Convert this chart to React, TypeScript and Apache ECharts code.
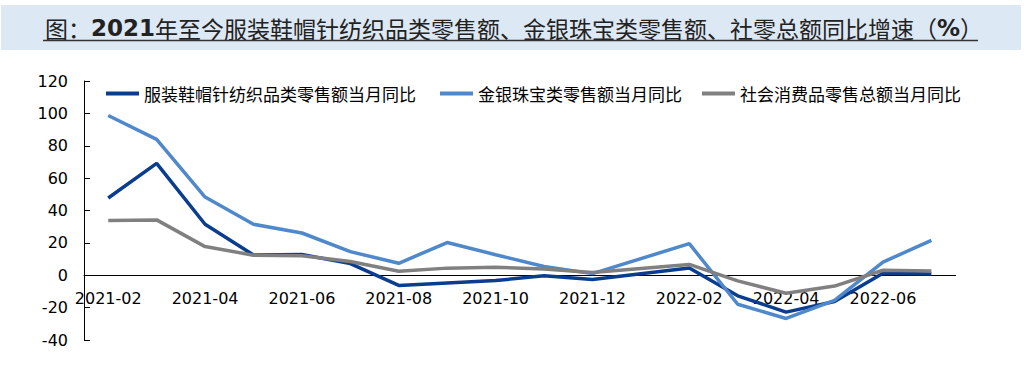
import React, { useEffect, useRef } from "react";
import * as echarts from "echarts";

const categories = [
  "2021-02", "2021-03", "2021-04", "2021-05", "2021-06", "2021-07", "2021-08", "2021-09",
  "2021-10", "2021-11", "2021-12", "2022-01", "2022-02", "2022-03", "2022-04", "2022-05",
  "2022-06", "2022-07",
];
const apparel = [47.7, 69.1, 31.5, 12.5, 12.8, 7.2, -6.3, -4.8, -3.3, -0.3, -2.6, null, 4.5, -12.7, -22.8, -16.2, 1.2, 0.8];
const jewelry = [98.7, 83.9, 48.3, 31.5, 26.1, 14.6, 7.4, 20.2, 12.7, 5.4, 1.0, null, 19.5, -17.9, -26.7, -15.5, 8.1, 21.6];
const retailTotal = [33.8, 34.2, 17.7, 12.4, 12.1, 8.5, 2.5, 4.4, 4.9, 3.9, 1.7, null, 6.7, -3.5, -11.1, -6.7, 3.1, 2.7];
const yMin = -40;
const yMax = 120;

const names = ["服装鞋帽针纺织品类零售额当月同比", "金银珠宝类零售额当月同比", "社会消费品零售总额当月同比"];
const colors = ["#0a3d8f", "#4f88cb", "#808080"];
const titleText = "{n|图：}{b|2021}{n|年至今服装鞋帽针纺织品类零售额、金银珠宝类零售额、社零总额同比增速（}{b|%}{n|）}";

export default function App() {
  const ref = useRef<HTMLDivElement>(null);
  useEffect(() => {
    if (!ref.current) return;
    const chart = echarts.init(ref.current, undefined, { renderer: "svg" });
    const gridHeight = 259;
    const zeroOffset = -gridHeight * (0 - yMin) / (yMax - yMin);
    const legendBase = {
      top: 80,
      icon: "rect",
      itemWidth: 33,
      itemHeight: 4,
      itemGap: 10,
      textStyle: { fontFamily: "Noto Sans CJK SC", fontSize: 17, color: "#000" },
    };
    chart.setOption({
      animation: false,
      backgroundColor: "#fff",
      graphic: [
        { type: "rect", shape: { x: 1, y: 5, width: 1020, height: 45 }, style: { fill: "#dde8f5" }, z: -1 },
        {
          type: "text",
          x: 45,
          y: 28,
          style: {
            text: titleText,
            verticalAlign: "middle",
            rich: {
              n: { fontFamily: "Noto Sans CJK SC", fontSize: 23, fill: "#222" },
              b: { fontFamily: "DejaVu Sans", fontWeight: "bold", fontSize: 23, fill: "#222" },
            },
          },
        },
        { type: "line", shape: { x1: 43, y1: 40.5, x2: 978, y2: 40.5 }, style: { stroke: "#333", lineWidth: 1.5 } },
      ],
      legend: [
        { ...legendBase, left: 101, data: [names[0]] },
        { ...legendBase, left: 435, data: [names[1]] },
        { ...legendBase, left: 697, data: [names[2]] },
      ],
      grid: { left: 84, top: 81, width: 871.6, height: gridHeight, outerBoundsMode: "none", containLabel: false },
      xAxis: {
        type: "category",
        data: categories,
        boundaryGap: true,
        position: "bottom",
        offset: zeroOffset,
        axisLine: { onZero: false, lineStyle: { color: "#000", width: 1 } },
        axisTick: { inside: true, length: 6, interval: 1, lineStyle: { color: "#000" } },
        axisLabel: { interval: 1, margin: 15, fontFamily: "DejaVu Sans", fontSize: 16, color: "#000" },
        splitLine: { show: false },
      },
      yAxis: {
        type: "value",
        min: yMin,
        max: yMax,
        interval: 20,
        axisLine: { show: true, lineStyle: { color: "#000", width: 1 } },
        axisTick: { show: true, inside: true, length: 6, lineStyle: { color: "#000" } },
        axisLabel: { margin: 16, fontFamily: "DejaVu Sans", fontSize: 16, color: "#000" },
        splitLine: { show: false },
      },
      series: [
        { name: names[0], type: "line", data: apparel, connectNulls: true, showSymbol: false, symbol: "none", lineStyle: { width: 3.5, color: colors[0] }, itemStyle: { color: colors[0] } },
        { name: names[1], type: "line", data: jewelry, connectNulls: true, showSymbol: false, symbol: "none", lineStyle: { width: 3.5, color: colors[1] }, itemStyle: { color: colors[1] } },
        { name: names[2], type: "line", data: retailTotal, connectNulls: true, showSymbol: false, symbol: "none", lineStyle: { width: 3.5, color: colors[2] }, itemStyle: { color: colors[2] } },
      ],
    });
    return () => chart.dispose();
  }, []);
  return <div ref={ref} style={{ position: "fixed", left: 0, top: 0, width: 1024, height: 365 }} />;
}
